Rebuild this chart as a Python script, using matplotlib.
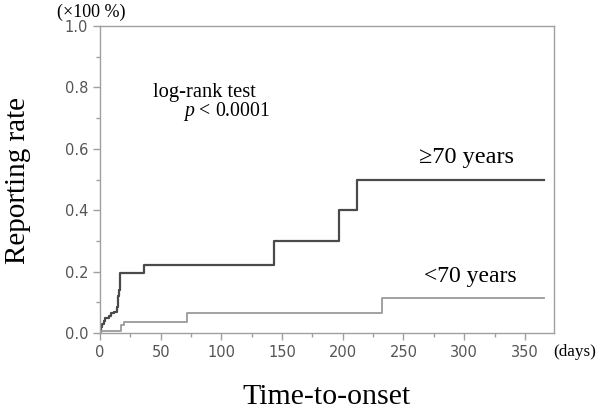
import matplotlib.pyplot as plt
from matplotlib.ticker import MultipleLocator

# step curves (days, cumulative rate)
old_days = [0, 1, 2, 3, 4, 7, 9, 11.5, 13.7, 15, 16, 16.5, 36, 143, 197, 212, 366]
old_rate = [0, 0.02, 0.03, 0.04, 0.048, 0.055, 0.064, 0.069, 0.084, 0.12, 0.14,
            0.194, 0.222, 0.3, 0.4, 0.5, 0.5]
young_days = [0, 0.5, 17, 20, 72, 232, 366]
young_rate = [0, 0.0075, 0.026, 0.037, 0.066, 0.113, 0.113]

plt.rcParams['mathtext.fontset'] = 'custom'
plt.rcParams['mathtext.it'] = 'Liberation Serif:italic'
plt.rcParams['mathtext.rm'] = 'Liberation Serif'

serif = ['Liberation Serif', 'DejaVu Serif']
grey = '#a0a0a0'

fig = plt.figure(figsize=(5.96, 4.13), dpi=100)
ax = fig.add_axes([0.1678, 0.1937, 0.9295 - 0.1678, 0.937 - 0.1937])

ax.plot(old_days, old_rate, drawstyle='steps-post', color='#4a4a4a', lw=1.6)
ax.plot(young_days, young_rate, drawstyle='steps-post', color='#9a9a9a', lw=1.3)

ax.set_xlim(0, 374)
ax.set_ylim(0, 1.0)
ax.xaxis.set_major_locator(MultipleLocator(50))
ax.xaxis.set_minor_locator(MultipleLocator(25))
ax.yaxis.set_major_locator(MultipleLocator(0.2))
ax.yaxis.set_minor_locator(MultipleLocator(0.1))
ax.yaxis.set_major_formatter(plt.FuncFormatter(lambda v, p: f'{v:.1f}'))

for s in ax.spines.values():
    s.set_color(grey)
    s.set_linewidth(1.0)
ax.tick_params(which='both', colors=grey, labelcolor='#555555', labelsize=10.5, width=1)
ax.tick_params(which='major', length=5)
ax.tick_params(which='minor', length=3)

fig.text(91 / 596, 1 - 12 / 413, '(×100 %)', fontsize=13, family=serif,
         ha='center', va='center')
fig.text(553 / 596, 1 - 352 / 413, '(days)', fontsize=12.3, family=serif,
         ha='left', va='center')
fig.text(18 / 596, 1 - 180 / 413, 'Reporting rate', fontsize=21, family=serif,
         rotation=90, ha='center', va='center')
fig.text(327 / 596, 1 - 397 / 413, 'Time-to-onset', fontsize=21.5, family=serif,
         ha='center', va='center')

ax.text(44, 0.768, 'log-rank test', fontsize=14.8, family=serif, ha='left', va='baseline')
ax.text(68, 0.706, '$p$ < 0.0001', fontsize=14.2, family=serif, ha='left', va='baseline')
ax.text(263, 0.573, '≥70 years', fontsize=17.5, family=serif, ha='left', va='center')
ax.text(267, 0.185, '<70 years', fontsize=17, family=serif, ha='left', va='center')

fig.savefig('out.png', dpi=100)
